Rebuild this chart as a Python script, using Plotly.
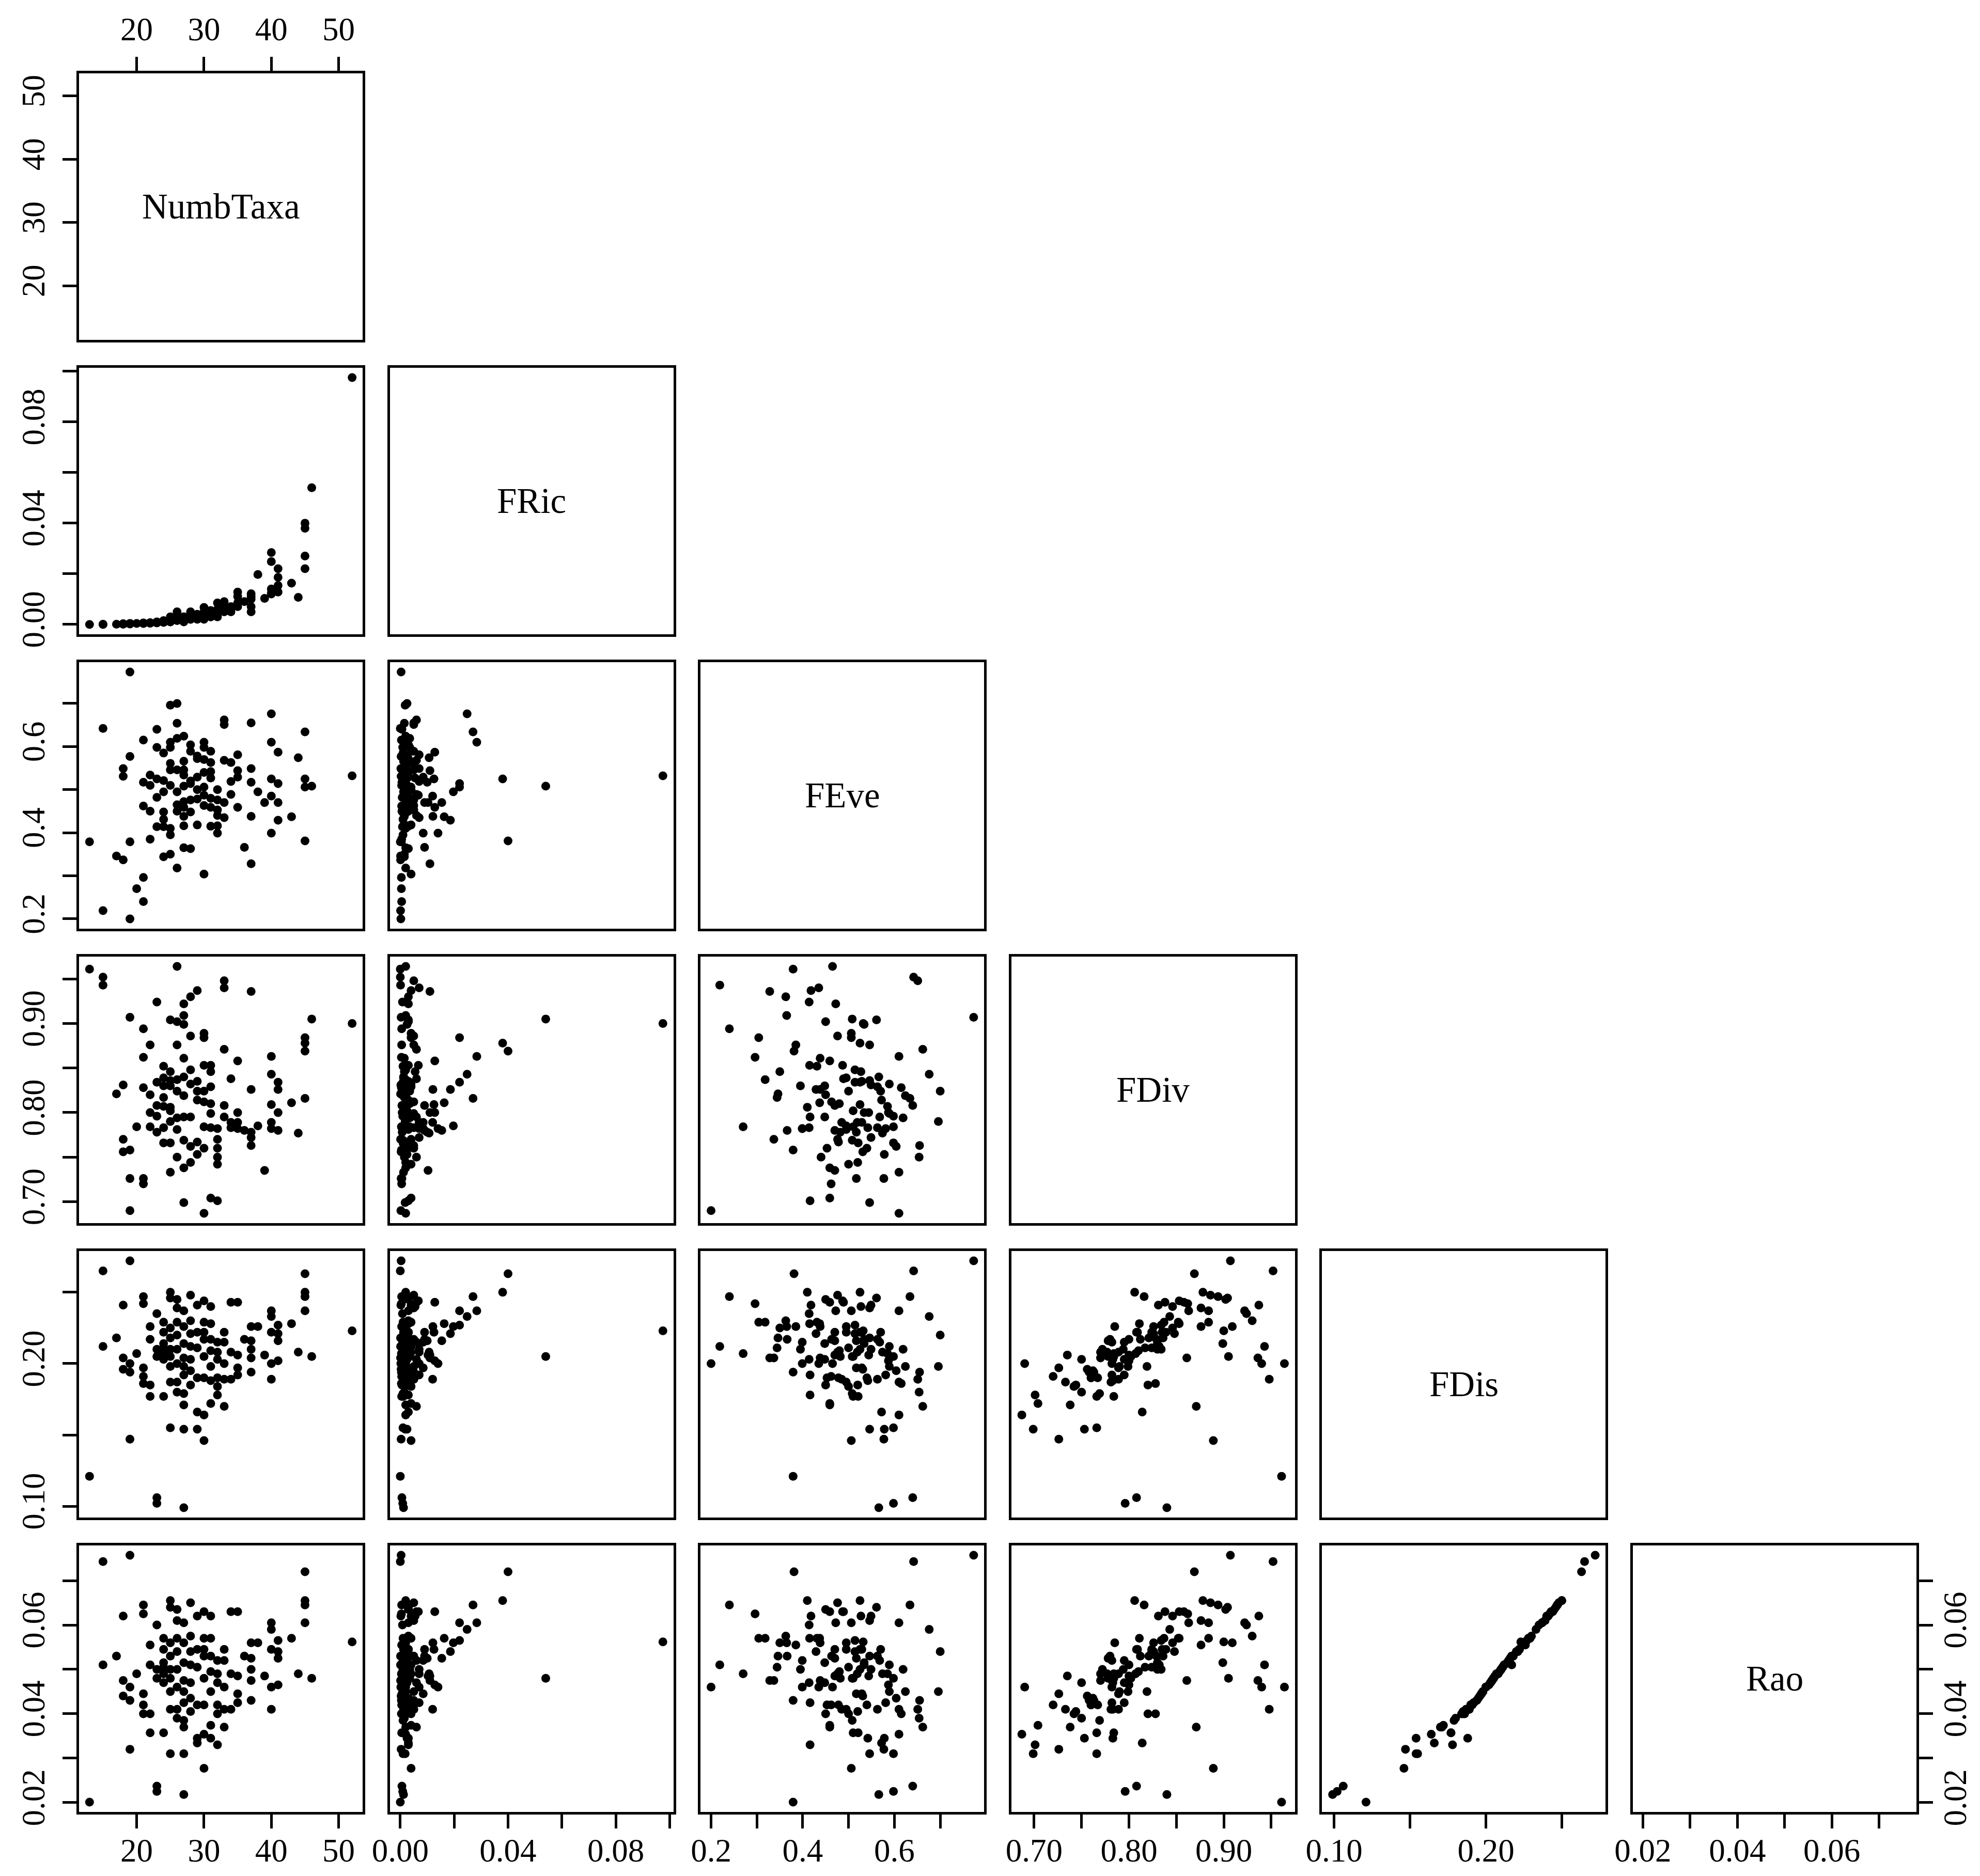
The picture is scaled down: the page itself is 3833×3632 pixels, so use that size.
import plotly.graph_objects as go

# variable names (diagonal labels)
names = ["NumbTaxa", "FRic", "FEve", "FDiv", "FDis", "Rao"]

# one value per sampling site, same order in every list
numb_taxa = [13, 15, 15, 17, 18, 18, 18, 19, 19, 19, 19, 20,
             21, 21, 21, 21, 21, 22, 22, 22, 22, 23, 23, 23, 23, 23,
             24, 24, 24, 24, 24, 24, 24,
             25, 25, 25, 25, 25, 25, 25, 25, 25,
             26, 26, 26, 26, 26, 26, 26, 26,
             27, 27, 27, 27, 27, 27, 27, 27, 27, 27,
             28, 28, 28, 28, 28, 28, 28,
             29, 29, 29, 29, 29, 29,
             30, 30, 30, 30, 30, 30, 30, 30,
             31, 31, 31, 31, 31, 31, 31,
             32, 32, 32, 32, 32, 32,
             33, 33, 33, 33, 33,
             34, 34, 34, 35, 35, 35, 35, 36,
             37, 37, 37, 37, 37, 38, 39,
             40, 40, 40, 40, 40, 41, 41, 41, 41,
             43, 44, 45, 45, 45, 45, 46, 52]

fric = [0.0000, 0.0000, 0.0001, 0.0001, 0.0002, 0.0001, 0.0003,
        0.0003, 0.0002, 0.0004, 0.0003, 0.0004,
        0.0005, 0.0004, 0.0006, 0.0005, 0.0004,
        0.0005, 0.0007, 0.0006, 0.0005,
        0.0008, 0.0010, 0.0007, 0.0006, 0.0009,
        0.0010, 0.0012, 0.0008, 0.0015, 0.0010, 0.0009, 0.0011,
        0.0020, 0.0030, 0.0015, 0.0020, 0.0010, 0.0025, 0.0018, 0.0012, 0.0010,
        0.0030, 0.0050, 0.0020, 0.0025, 0.0035, 0.0020, 0.0030, 0.0015,
        0.0030, 0.0020, 0.0025, 0.0015, 0.0020, 0.0030, 0.0010, 0.0020, 0.0018, 0.0012,
        0.0050, 0.0030, 0.0020, 0.0040, 0.0025, 0.0030, 0.0020,
        0.0040, 0.0030, 0.0035, 0.0020, 0.0030, 0.0025,
        0.0067, 0.0040, 0.0030, 0.0050, 0.0035, 0.0030, 0.0020, 0.0040,
        0.0055, 0.0030, 0.0040, 0.0035, 0.0050, 0.0030, 0.0040,
        0.0085, 0.0040, 0.0060, 0.0050, 0.0040, 0.0030,
        0.0090, 0.0060, 0.0070, 0.0050, 0.0060,
        0.0060, 0.0070, 0.0050, 0.0128, 0.0110, 0.0085, 0.0070, 0.0090,
        0.0121, 0.0100, 0.0070, 0.0110, 0.0050, 0.0197, 0.0103,
        0.0284, 0.0248, 0.0125, 0.0140, 0.0120, 0.0220, 0.0186, 0.0154, 0.0128,
        0.0163, 0.0107, 0.0400, 0.0380, 0.0270, 0.0220, 0.0540, 0.0975]

feve = [0.379, 0.642, 0.219, 0.346, 0.549, 0.337, 0.531,
        0.773, 0.200, 0.379, 0.577, 0.270,
        0.240, 0.296, 0.517, 0.462, 0.615,
        0.385, 0.534, 0.450, 0.510,
        0.414, 0.525, 0.482, 0.640, 0.598,
        0.431, 0.495, 0.448, 0.344, 0.585, 0.414, 0.521,
        0.410, 0.561, 0.350, 0.546, 0.395, 0.510, 0.696, 0.610, 0.598,
        0.450, 0.546, 0.318, 0.700, 0.619, 0.465, 0.495, 0.654,
        0.472, 0.365, 0.534, 0.438, 0.624, 0.416, 0.508, 0.459, 0.546, 0.566,
        0.476, 0.363, 0.514, 0.589, 0.448, 0.604, 0.520,
        0.418, 0.529, 0.500, 0.478, 0.572, 0.578,
        0.487, 0.304, 0.570, 0.463, 0.598, 0.540, 0.610, 0.506,
        0.527, 0.415, 0.563, 0.480, 0.589, 0.542, 0.459,
        0.399, 0.476, 0.440, 0.453, 0.500, 0.416,
        0.470, 0.568, 0.435, 0.651, 0.662,
        0.489, 0.519, 0.563, 0.459, 0.544, 0.529, 0.581, 0.366,
        0.438, 0.517, 0.549, 0.328, 0.655, 0.495, 0.470,
        0.610, 0.676, 0.525, 0.399, 0.485, 0.514, 0.429, 0.470, 0.587,
        0.437, 0.574, 0.381, 0.525, 0.634, 0.506, 0.508, 0.532]

fdiv = [0.961, 0.952, 0.943, 0.821, 0.831, 0.770, 0.756,
        0.907, 0.690, 0.758, 0.726, 0.784,
        0.894, 0.862, 0.726, 0.720, 0.828,
        0.876, 0.800, 0.820, 0.784,
        0.924, 0.834, 0.778, 0.808, 0.796,
        0.852, 0.839, 0.830, 0.817, 0.807, 0.783, 0.766,
        0.806, 0.904, 0.846, 0.836, 0.830, 0.802, 0.790, 0.733, 0.766,
        0.902, 0.876, 0.837, 0.824, 0.794, 0.964, 0.781, 0.750,
        0.922, 0.909, 0.899, 0.861, 0.819, 0.795, 0.769, 0.738, 0.699, 0.840,
        0.886, 0.930, 0.848, 0.832, 0.795, 0.762, 0.744,
        0.937, 0.835, 0.824, 0.767, 0.814, 0.753,
        0.853, 0.884, 0.824, 0.812, 0.784, 0.760, 0.687, 0.889,
        0.846, 0.853, 0.829, 0.810, 0.799, 0.783, 0.704,
        0.782, 0.770, 0.750, 0.760, 0.742, 0.701,
        0.808, 0.795, 0.940, 0.948, 0.871,
        0.838, 0.789, 0.783, 0.858, 0.800, 0.789, 0.782, 0.780,
        0.826, 0.778, 0.772, 0.936, 0.763, 0.785, 0.735,
        0.863, 0.843, 0.809, 0.782, 0.789, 0.834, 0.826, 0.780, 0.800,
        0.811, 0.777, 0.869, 0.878, 0.816, 0.884, 0.905, 0.900]

fdis = [0.121, 0.265, 0.212, 0.218, 0.241, 0.204, 0.196,
        0.272, 0.200, 0.194, 0.147, 0.207,
        0.247, 0.242, 0.197, 0.191, 0.186,
        0.226, 0.217, 0.185, 0.177,
        0.235, 0.210, 0.205, 0.106, 0.102,
        0.229, 0.222, 0.214, 0.211, 0.207, 0.203, 0.177,
        0.250, 0.246, 0.225, 0.218, 0.210, 0.205, 0.198, 0.187, 0.155,
        0.245, 0.239, 0.229, 0.220, 0.210, 0.200, 0.187, 0.180,
        0.237, 0.226, 0.214, 0.204, 0.198, 0.192, 0.179, 0.171, 0.154, 0.099,
        0.248, 0.230, 0.221, 0.212, 0.203, 0.195, 0.185,
        0.241, 0.222, 0.211, 0.190, 0.166, 0.154,
        0.244, 0.229, 0.222, 0.217, 0.205, 0.190, 0.164, 0.146,
        0.240, 0.228, 0.217, 0.209, 0.198, 0.188, 0.172,
        0.215, 0.208, 0.203, 0.190, 0.184, 0.178,
        0.222, 0.215, 0.200, 0.189, 0.170,
        0.243, 0.208, 0.189, 0.243, 0.206, 0.197, 0.192, 0.217,
        0.226, 0.216, 0.210, 0.204, 0.194, 0.226, 0.206,
        0.237, 0.233, 0.222, 0.200, 0.189, 0.227, 0.221, 0.216, 0.202,
        0.228, 0.208, 0.263, 0.250, 0.247, 0.237, 0.205, 0.223]

rao = [0.0201, 0.0743, 0.0510, 0.0530, 0.0620, 0.0475, 0.0440,
       0.0757, 0.0460, 0.0430, 0.0320, 0.0490,
       0.0645, 0.0625, 0.0445, 0.0420, 0.0400,
       0.0555, 0.0510, 0.0400, 0.0357,
       0.0600, 0.0500, 0.0480, 0.0237, 0.0225,
       0.0570, 0.0545, 0.0515, 0.0505, 0.0490, 0.0470, 0.0357,
       0.0655, 0.0640, 0.0560, 0.0530, 0.0500, 0.0480, 0.0450, 0.0410, 0.0310,
       0.0635, 0.0610, 0.0570, 0.0540, 0.0500, 0.0460, 0.0410, 0.0390,
       0.0605, 0.0560, 0.0515, 0.0475, 0.0450, 0.0425, 0.0385, 0.0370, 0.0310, 0.0218,
       0.0650, 0.0575, 0.0540, 0.0510, 0.0470, 0.0435, 0.0405,
       0.0620, 0.0545, 0.0505, 0.0420, 0.0334, 0.0345,
       0.0630, 0.0570, 0.0545, 0.0530, 0.0480, 0.0420, 0.0354, 0.0277,
       0.0620, 0.0570, 0.0530, 0.0495, 0.0450, 0.0345, 0.0374,
       0.0520, 0.0490, 0.0470, 0.0420, 0.0400, 0.0330,
       0.0545, 0.0520, 0.0460, 0.0410, 0.0370,
       0.0630, 0.0490, 0.0410, 0.0630, 0.0485, 0.0445, 0.0425, 0.0530,
       0.0560, 0.0525, 0.0500, 0.0475, 0.0430, 0.0560, 0.0485,
       0.0605, 0.0590, 0.0545, 0.0460, 0.0410, 0.0565, 0.0540, 0.0525, 0.0465,
       0.0570, 0.0490, 0.0720, 0.0655, 0.0645, 0.0605, 0.0480, 0.0562]

# tick positions and labels (R drops labels that would overlap)
tick_vals = [
    [20, 30, 40, 50],
    [0.00, 0.02, 0.04, 0.06, 0.08, 0.10],
    [0.2, 0.3, 0.4, 0.5, 0.6, 0.7],
    [0.70, 0.75, 0.80, 0.85, 0.90, 0.95],
    [0.10, 0.15, 0.20, 0.25],
    [0.02, 0.03, 0.04, 0.05, 0.06, 0.07],
]
tick_text = [
    ["20", "30", "40", "50"],
    ["0.00", "", "0.04", "", "0.08", ""],
    ["0.2", "", "0.4", "", "0.6", ""],
    ["0.70", "", "0.80", "", "0.90", ""],
    ["0.10", "", "0.20", ""],
    ["0.02", "", "0.04", "", "0.06", ""],
]

data = [numb_taxa, fric, feve, fdiv, fdis, rao]


def r_range(v):
    # R's default 4% padding
    lo, hi = min(v), max(v)
    d = (hi - lo) * 0.04
    return [lo - d, hi + d]


W, H = 3833, 3632
left0, col_step, pw = 145, 601.6, 549
top0, row_step, ph = 134, 570, 516

font = dict(family="Liberation Serif", size=63, color="black")
tick_style = dict(ticks="outside", ticklen=27, tickwidth=5, tickcolor="black",
                  tickmode="array", tickfont=font)

fig = go.Figure()
layout = {}
annotations = []
k = 0
for r in range(6):
    for c in range(r + 1):
        k += 1
        sfx = "" if k == 1 else str(k)
        x0 = (left0 + c * col_step) / W
        x1 = (left0 + c * col_step + pw) / W
        y1 = 1 - (top0 + r * row_step) / H
        y0 = 1 - (top0 + r * row_step + ph) / H

        xa = dict(domain=[x0, x1], anchor="y" + sfx, range=r_range(data[c]),
                  showgrid=False, zeroline=False, showline=True, mirror=True,
                  linecolor="black", linewidth=5, automargin=False)
        ya = dict(domain=[y0, y1], anchor="x" + sfx, range=r_range(data[r]),
                  showgrid=False, zeroline=False, showline=True, mirror=True,
                  linecolor="black", linewidth=5, automargin=False)

        if r == 5:
            xa.update(tick_style, tickvals=tick_vals[c], ticktext=tick_text[c],
                      side="bottom", ticklabelstandoff=-12)
        elif r == 0 and c == 0:
            xa.update(tick_style, tickvals=tick_vals[c], ticktext=tick_text[c],
                      side="top", ticklabelstandoff=7)
        else:
            xa.update(ticks="", showticklabels=False)

        if c == 0:
            ya.update(tick_style, tickvals=tick_vals[r], ticktext=tick_text[r],
                      tickangle=-90, side="left", ticklabelstandoff=10)
        elif r == 5 and c == 5:
            ya.update(tick_style, tickvals=tick_vals[r], ticktext=tick_text[r],
                      tickangle=-90, side="right", ticklabelstandoff=-12)
        else:
            ya.update(ticks="", showticklabels=False)

        layout["xaxis" + sfx] = xa
        layout["yaxis" + sfx] = ya

        if r == c:
            fig.add_trace(go.Scatter(x=[None], y=[None], mode="markers",
                                     xaxis="x" + sfx, yaxis="y" + sfx,
                                     showlegend=False))
            annotations.append(dict(text=names[r], x=0.5, y=0.5,
                                    xref="x" + sfx + " domain", yref="y" + sfx + " domain",
                                    showarrow=False,
                                    font=dict(family="Liberation Serif", size=69, color="black")))
        else:
            fig.add_trace(go.Scatter(x=data[c], y=data[r], mode="markers",
                                     marker=dict(color="black", size=17),
                                     xaxis="x" + sfx, yaxis="y" + sfx,
                                     showlegend=False))

fig.update_layout(**layout)
fig.update_layout(width=W, height=H, margin=dict(l=0, r=0, t=0, b=0),
                  paper_bgcolor="white", plot_bgcolor="white",
                  annotations=annotations)

fig.write_html("out.html")
